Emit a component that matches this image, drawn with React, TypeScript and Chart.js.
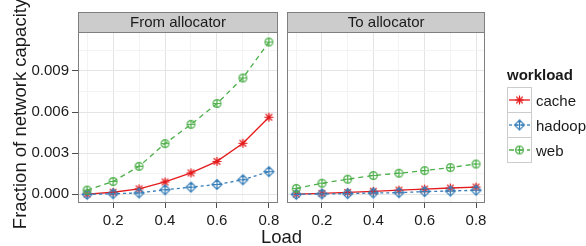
import React, { useEffect, useRef } from 'react';
import { Chart, registerables } from 'chart.js';

Chart.register(...registerables);

// ---------- data ----------
const loads = [0.1, 0.2, 0.3, 0.4, 0.5, 0.6, 0.7, 0.8];
const seriesNames = ['cache', 'hadoop', 'web'];
const panelTitles = ['From allocator', 'To allocator'];

const fromCache = [0.00002, 0.00015, 0.0004, 0.0009, 0.00156, 0.0024, 0.00372, 0.00562];
const fromHadoop = [0.0, 0.00004, 0.0001, 0.00033, 0.00052, 0.00072, 0.00106, 0.00165];
const fromWeb = [0.00031, 0.00093, 0.00204, 0.0037, 0.0051, 0.00662, 0.00848, 0.0111];

const toCache = [0.00002, 0.00007, 0.00014, 0.00022, 0.00031, 0.00038, 0.00046, 0.00053];
const toHadoop = [0.0, 0.00003, 0.00005, 0.0001, 0.00012, 0.0002, 0.00024, 0.0003];
const toWeb = [0.00043, 0.00081, 0.0011, 0.00137, 0.00154, 0.00173, 0.00195, 0.00221];

const xTickValues = [0.2, 0.4, 0.6, 0.8];
const xTickLabels = ['0.2', '0.4', '0.6', '0.8'];
const xMinorValues = [0.1, 0.3, 0.5, 0.7];
const yTickValues = [0, 0.003, 0.006, 0.009];
const yTickLabels = ['0.000', '0.003', '0.006', '0.009'];
const yMinorValues = [0.0015, 0.0045, 0.0075, 0.0105];

const xTitle = 'Load';
const yTitle = 'Fraction of network capacity';
const legendTitle = 'workload';

// ---------- style ----------
const FONT = "'Liberation Sans', Arial, Helvetica, sans-serif";
const COLORS: Record<string, string> = { cache: '#E41A1C', hadoop: '#377EB8', web: '#4DAF4A' };
const DASHES: Record<string, number[]> = { cache: [], hadoop: [3, 3], web: [5, 4] };
const TEXT = '#1a1a1a';
const GRID_MAJOR = '#e4e4e4';
const GRID_MINOR = '#f3f3f3';
const BORDER = '#7f7f7f';
const STRIP_FILL = '#cccccc';

const X_MIN = 0.065;
const X_MAX = 0.835;
const Y_MIN = -0.00056;
const Y_MAX = 0.01176;

const PANEL_TOP = 33;
const PANEL_BOTTOM = 202;
const STRIP_TOP = 12;

function makeMarker(kind: string, color: string): HTMLCanvasElement {
  const c = document.createElement('canvas');
  c.width = 15;
  c.height = 15;
  const g = c.getContext('2d')!;
  const m = 7.5;
  g.strokeStyle = color;
  g.lineWidth = 1.2;
  g.beginPath();
  if (kind === 'cache') {
    const r = 4.6;
    const d = r * 0.7071;
    g.moveTo(m - r, m); g.lineTo(m + r, m);
    g.moveTo(m, m - r); g.lineTo(m, m + r);
    g.moveTo(m - d, m - d); g.lineTo(m + d, m + d);
    g.moveTo(m - d, m + d); g.lineTo(m + d, m - d);
  } else if (kind === 'hadoop') {
    const r = 5;
    g.moveTo(m, m - r); g.lineTo(m + r, m); g.lineTo(m, m + r); g.lineTo(m - r, m); g.closePath();
    g.moveTo(m - r, m); g.lineTo(m + r, m);
    g.moveTo(m, m - r); g.lineTo(m, m + r);
  } else {
    const r = 3.9;
    g.arc(m, m, r, 0, Math.PI * 2);
    g.moveTo(m - r, m); g.lineTo(m + r, m);
    g.moveTo(m, m - r); g.lineTo(m, m + r);
  }
  g.stroke();
  return c;
}

function isIn(list: number[], v: number) {
  return list.some((t) => Math.abs(t - v) < 1e-9);
}

type PanelOpts = {
  canvasLeft: number;
  canvasWidth: number;
  plotLeft: number;
  plotRight: number;
  title: string;
  showY: boolean;
  drawYTitle: boolean;
  drawXTitle: boolean;
  drawLegend: boolean;
  series: number[][];
  markers: Record<string, HTMLCanvasElement>;
};

function buildConfig(o: PanelOpts): any {
  const datasets = seriesNames.map((name, i) => ({
    label: name,
    data: loads.map((x, k) => ({ x, y: o.series[i][k] })),
    borderColor: COLORS[name],
    backgroundColor: COLORS[name],
    borderWidth: 1.3,
    borderDash: DASHES[name],
    pointStyle: o.markers[name],
    pointRadius: 5,
    pointHoverRadius: 5,
    tension: 0,
    fill: false,
    order: 2 - i,
  }));

  const decor = {
    id: 'decor',
    afterDraw(chart: any) {
      const ctx = chart.ctx as CanvasRenderingContext2D;
      const a = chart.chartArea;
      ctx.save();
      // panel border
      ctx.strokeStyle = BORDER;
      ctx.lineWidth = 1;
      ctx.setLineDash([]);
      ctx.strokeRect(Math.round(a.left) + 0.5, Math.round(a.top) - 0.5, Math.round(a.right - a.left) - 1, Math.round(a.bottom - a.top) + 1);
      // strip
      const sx = Math.round(a.left) + 0.5;
      const sw = Math.round(a.right - a.left) - 1;
      ctx.fillStyle = STRIP_FILL;
      ctx.fillRect(sx, STRIP_TOP + 0.5, sw, Math.round(a.top) - STRIP_TOP - 1);
      ctx.strokeRect(sx, STRIP_TOP + 0.5, sw, Math.round(a.top) - STRIP_TOP - 1);
      ctx.fillStyle = TEXT;
      ctx.font = `15px ${FONT}`;
      ctx.textAlign = 'center';
      ctx.textBaseline = 'alphabetic';
      ctx.fillText(o.title, (a.left + a.right) / 2, 26.5);

      if (o.drawYTitle) {
        ctx.save();
        ctx.translate(26, 114);
        ctx.rotate(-Math.PI / 2);
        ctx.font = `18.5px ${FONT}`;
        ctx.textAlign = 'center';
        ctx.textBaseline = 'alphabetic';
        ctx.fillText(yTitle, 0, 0);
        ctx.restore();
      }
      if (o.drawXTitle) {
        ctx.font = `18.5px ${FONT}`;
        ctx.textAlign = 'center';
        ctx.textBaseline = 'alphabetic';
        ctx.fillText(xTitle, 281.5 - o.canvasLeft, 243);
      }
      if (o.drawLegend) {
        const lx = 507 - o.canvasLeft;
        ctx.font = `bold 15px ${FONT}`;
        ctx.textAlign = 'left';
        ctx.fillStyle = TEXT;
        ctx.fillText(legendTitle, lx, 80);
        const rowTop = 87;
        const rowH = 25;
        seriesNames.forEach((name, i) => {
          const top = rowTop + i * rowH;
          ctx.fillStyle = '#ffffff';
          ctx.fillRect(lx + 0.5, top + 0.5, 24, rowH);
          ctx.strokeStyle = '#cccccc';
          ctx.lineWidth = 1;
          ctx.setLineDash([]);
          ctx.strokeRect(lx + 0.5, top + 0.5, 24, rowH);
          const cy = top + rowH / 2 + 0.5;
          ctx.strokeStyle = COLORS[name];
          ctx.lineWidth = 1.3;
          ctx.setLineDash(DASHES[name]);
          ctx.beginPath();
          ctx.moveTo(lx + 2, cy);
          ctx.lineTo(lx + 23, cy);
          ctx.stroke();
          ctx.setLineDash([]);
          const mk = o.markers[name];
          ctx.drawImage(mk, lx + 12.5 - mk.width / 2, cy - mk.height / 2);
          ctx.fillStyle = TEXT;
          ctx.font = `15px ${FONT}`;
          ctx.fillText(name, lx + 29, cy + 6.3);
        });
      }
      ctx.restore();
    },
  };

  const gridColor = (major: number[]) => (c: any) =>
    c.tick && isIn(major, c.tick.value) ? GRID_MAJOR : GRID_MINOR;
  const tickColor = (major: number[]) => (c: any) =>
    c.tick && isIn(major, c.tick.value) ? '#4d4d4d' : 'rgba(0,0,0,0)';

  return {
    type: 'line',
    data: { datasets },
    options: {
      animation: false,
      responsive: false,
      maintainAspectRatio: false,
      devicePixelRatio: 1,
      layout: {
        padding: {
          top: PANEL_TOP,
          left: 0,
          right: o.canvasWidth - (o.plotRight - o.canvasLeft),
          bottom: 0,
        },
      },
      plugins: { legend: { display: false }, tooltip: { enabled: false } },
      scales: {
        x: {
          type: 'linear',
          min: X_MIN,
          max: X_MAX,
          afterBuildTicks: (s: any) => {
            s.ticks = [...xMinorValues, ...xTickValues].sort((p, q) => p - q).map((v) => ({ value: v }));
          },
          afterFit: (s: any) => {
            s.height = 246 - PANEL_BOTTOM;
          },
          ticks: {
            autoSkip: false,
            maxRotation: 0,
            padding: 4,
            color: TEXT,
            font: { family: FONT, size: 15 },
            callback: (v: number) => {
              const i = xTickValues.findIndex((t) => Math.abs(t - v) < 1e-9);
              return i >= 0 ? xTickLabels[i] : '';
            },
          },
          grid: {
            color: gridColor(xTickValues),
            tickColor: tickColor(xTickValues),
            tickLength: 6,
            lineWidth: 1,
          },
          border: { display: false },
        },
        y: {
          type: 'linear',
          min: Y_MIN,
          max: Y_MAX,
          afterBuildTicks: (s: any) => {
            s.ticks = [...yMinorValues, ...yTickValues].sort((p, q) => p - q).map((v) => ({ value: v }));
          },
          afterFit: (s: any) => {
            s.width = o.plotLeft - o.canvasLeft;
          },
          ticks: {
            display: o.showY,
            autoSkip: false,
            padding: 3,
            color: TEXT,
            font: { family: FONT, size: 15 },
            callback: (v: number) => {
              const i = yTickValues.findIndex((t) => Math.abs(t - v) < 1e-12);
              return i >= 0 ? yTickLabels[i] : '';
            },
          },
          grid: {
            color: gridColor(yTickValues),
            tickColor: tickColor(yTickValues),
            tickLength: 6,
            drawTicks: o.showY,
            lineWidth: 1,
          },
          border: { display: false },
        },
      },
    },
    plugins: [decor],
  };
}

function Panel(props: Omit<PanelOpts, 'markers'>) {
  const ref = useRef<HTMLCanvasElement | null>(null);
  useEffect(() => {
    if (!ref.current) return;
    const markers: Record<string, HTMLCanvasElement> = {};
    seriesNames.forEach((n) => (markers[n] = makeMarker(n, COLORS[n])));
    const chart = new Chart(ref.current, buildConfig({ ...props, markers }));
    return () => chart.destroy();
  }, []);
  return (
    <canvas
      ref={ref}
      width={props.canvasWidth}
      height={246}
      style={{
        position: 'absolute',
        left: props.canvasLeft,
        top: 0,
        width: props.canvasWidth,
        height: 246,
        display: 'block',
      }}
    />
  );
}

export default function App() {
  return (
    <div
      style={{
        position: 'absolute',
        left: 0,
        top: 0,
        width: 586,
        height: 246,
        background: '#ffffff',
        overflow: 'hidden',
      }}
    >
      <Panel
        canvasLeft={0}
        canvasWidth={310}
        plotLeft={78}
        plotRight={278}
        title={panelTitles[0]}
        showY={true}
        drawYTitle={true}
        drawXTitle={true}
        drawLegend={false}
        series={[fromCache, fromHadoop, fromWeb]}
      />
      <Panel
        canvasLeft={281}
        canvasWidth={305}
        plotLeft={284}
        plotRight={485}
        title={panelTitles[1]}
        showY={false}
        drawYTitle={false}
        drawXTitle={false}
        drawLegend={true}
        series={[toCache, toHadoop, toWeb]}
      />
    </div>
  );
}
